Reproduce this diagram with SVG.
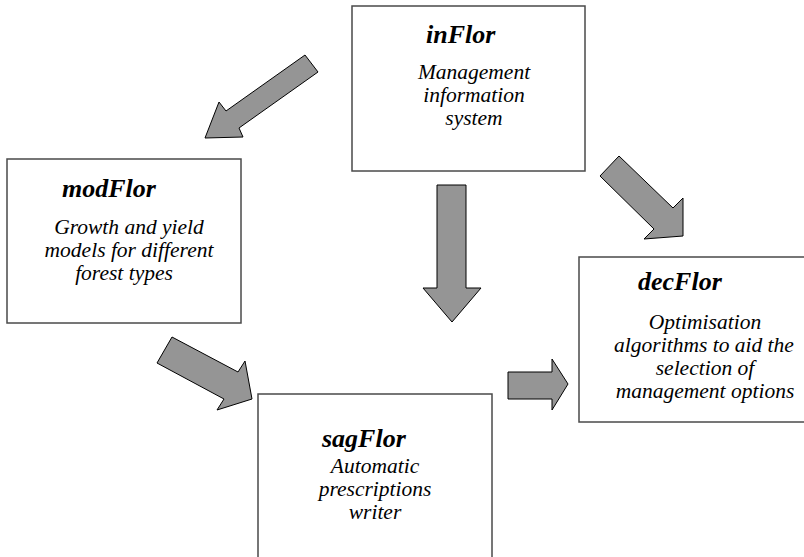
<svg xmlns="http://www.w3.org/2000/svg" width="804" height="557" viewBox="0 0 804 557">
<style>
.box{fill:#fff;stroke:#4a4a4a;stroke-width:1.5}
.arrow{fill:#959595;stroke:#000;stroke-width:1;stroke-linejoin:miter}
.title{font-family:"Liberation Serif",serif;font-weight:bold;font-style:italic;font-size:26px;fill:#000}
.body{font-family:"Liberation Serif",serif;font-style:italic;font-size:21.5px;fill:#000;text-anchor:middle}
</style>
<rect width="804" height="557" fill="#fff"/>
<g id="inFlor">
<rect class="box" x="352" y="6" width="233" height="165"/>
<text class="title" x="426" y="43">inFlor</text>
<text class="body" x="474" y="79">Management</text>
<text class="body" x="474" y="102">information</text>
<text class="body" x="474" y="125">system</text>
</g>
<g id="modFlor">
<rect class="box" x="7" y="159" width="234" height="164"/>
<text class="title" x="62" y="197">modFlor</text>
<text class="body" x="129" y="234">Growth and yield</text>
<text class="body" x="129" y="257">models for different</text>
<text class="body" x="124" y="280">forest types</text>
</g>
<g id="decFlor">
<rect class="box" x="579" y="257" width="230" height="165"/>
<text class="title" x="638" y="290">decFlor</text>
<text class="body" x="705" y="329">Optimisation</text>
<text class="body" x="704" y="352">algorithms to aid the</text>
<text class="body" x="705" y="375">selection of</text>
<text class="body" x="705" y="398">management options</text>
</g>
<g id="sagFlor">
<rect class="box" x="258" y="394" width="234" height="175"/>
<text class="title" x="322" y="447">sagFlor</text>
<text class="body" x="375" y="473">Automatic</text>
<text class="body" x="375" y="496">prescriptions</text>
<text class="body" x="375" y="519">writer</text>
</g>
<g id="connectors">
<polygon class="arrow" points="305,55 226,111 219,102 205,138 243,137 239,128 318,72"/>
<polygon class="arrow" points="437,185 466,185 466,288 481,288 452,322 423,288 437,288"/>
<polygon class="arrow" points="619,156 673,208 683,198 683,236 644,239 654,229 600,176"/>
<polygon class="arrow" points="172,337 238,372 245,361 252,399 217,410 224,399 157,363"/>
<polygon class="arrow" points="508,372 552,372 552,359 568,384 552,410 552,399 508,399"/>
</g>
</svg>
